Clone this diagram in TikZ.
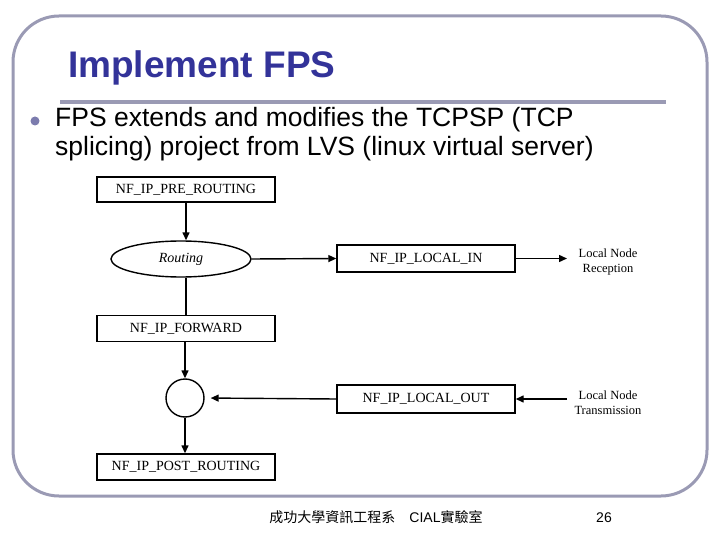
\documentclass[tikz,border=0pt]{standalone}
\usepackage{fontspec}
\setmainfont{Liberation Serif}
\newfontfamily\arialf{Liberation Sans}
\newfontfamily\cjk{Noto Sans CJK TC}
\usetikzlibrary{arrows.meta,shapes.geometric}
\definecolor{framec}{HTML}{9A9AB4}
\definecolor{titlec}{HTML}{333399}
\definecolor{bulletc}{HTML}{7C7CAE}
\tikzset{
  hookbox/.style={draw=black, line width=1.4pt, minimum width=178pt, inner sep=0pt, font=\fontsize{14}{16}\selectfont},
  conn/.style={draw=black, line width=1.4pt},
  arr/.style={conn, -{Triangle[length=8pt,width=7pt]}},
  sidetext/.style={font=\fontsize{12.5}{15}\selectfont, align=center, inner sep=0pt}
}
\begin{document}
\begin{tikzpicture}[x=1pt,y=-1pt]
\useasboundingbox (0,0) rectangle (720,540);
% slide frame
\draw[framec, line width=3pt, rounded corners=46pt] (13,16) rectangle (707,496);
\draw[framec, line width=3.5pt] (60,102) -- (666,102);
% title and body
\node[anchor=base west, inner sep=0pt, text=titlec, font=\arialf\bfseries\fontsize{37}{42}\selectfont] (title) at (68,78) {Implement FPS};
\fill[bulletc] (35,121) circle (4.5pt);
\node[anchor=base west, inner sep=0pt, font=\arialf\fontsize{26.5}{30}\selectfont] (line1) at (55,127) {FPS extends and modifies the TCPSP (TCP};
\node[anchor=base west, inner sep=0pt, font=\arialf\fontsize{26.5}{30}\selectfont] (line2) at (55,156) {splicing) project from LVS (linux virtual server)};
% diagram
\node[hookbox, minimum height=25pt] (pre) at (186,189.5) {NF\_IP\_PRE\_ROUTING};
\node[draw=black, line width=1.4pt, ellipse, minimum width=140pt, minimum height=36pt, inner sep=0pt, font=\itshape\fontsize{14}{16}\selectfont] (routing) at (181,259) {Routing};
\node[hookbox, minimum height=27pt] (localin) at (426,258.5) {NF\_IP\_LOCAL\_IN};
\node[sidetext] (recv) at (608,262) {Local Node\\Reception};
\coordinate (recvend) at (567,258.5);
\node[hookbox, minimum height=26pt] (fwd) at (186,328.5) {NF\_IP\_FORWARD};
\node[draw=black, line width=1.4pt, circle, minimum size=38pt, inner sep=0pt] (circ) at (185,398) {};
\node[hookbox, minimum height=28pt] (localout) at (426,399) {NF\_IP\_LOCAL\_OUT};
\node[sidetext] (trans) at (608,403) {Local Node\\Transmission};
\coordinate (transstart) at (567,399);
\node[hookbox, minimum height=26pt] (post) at (186,467) {NF\_IP\_POST\_ROUTING};
% connectors
\draw[arr] (pre.south) -- (pre.south |- routing.north);
\draw[arr] (routing.east) -- (localin.west);
\draw[arr] (localin.east) -- (recvend);
\draw[conn] (fwd.north |- routing.south) -- (fwd.north);
\draw[arr] (fwd.south -| circ.north) -- (circ.north);
\draw[arr, shorten >=6pt] (localout.west) -- (circ.east);
\draw[arr] (transstart) -- (localout.east);
\draw[arr] (circ.south) -- (circ.south |- post.north);
% footer
\node[anchor=base, inner sep=0pt, font=\cjk\fontsize{14}{16}\selectfont] (footer) at (376,522) {成功大學資訊工程系\hspace{14pt}{\arialf CIAL}實驗室};
\node[anchor=base, inner sep=0pt, font=\arialf\fontsize{14}{16}\selectfont] (pagenum) at (604,522) {26};
\end{tikzpicture}
\end{document}
